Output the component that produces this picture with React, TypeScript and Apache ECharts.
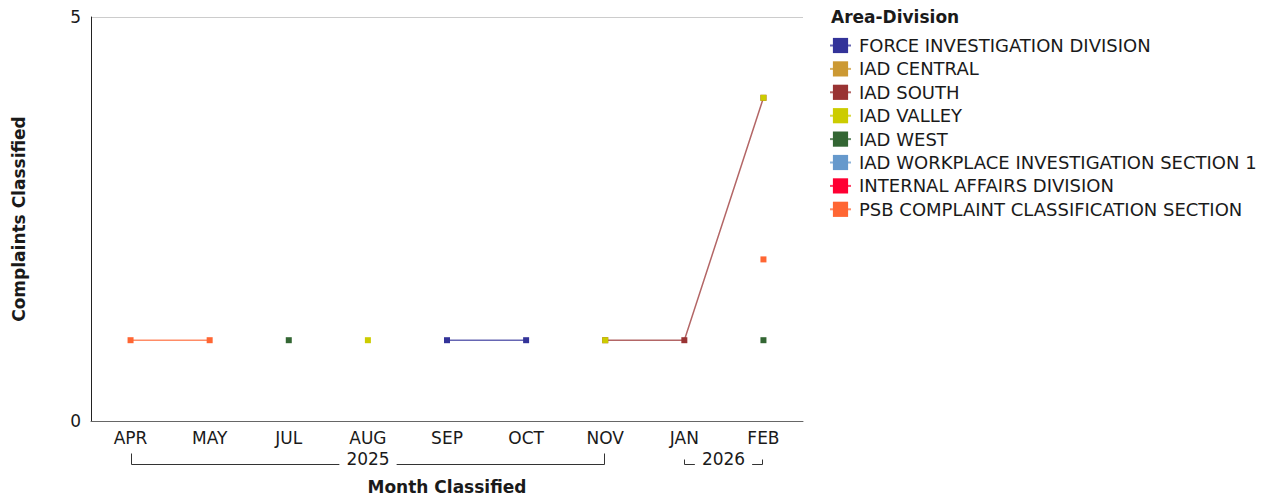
import React, { useEffect, useRef } from "react";
import * as echarts from "echarts";

const categories = ["APR", "MAY", "JUL", "AUG", "SEP", "OCT", "NOV", "JAN", "FEB"];
const yearGroups = [
  { label: "2025", from: "APR", to: "NOV" },
  { label: "2026", from: "JAN", to: "FEB" },
];
const seriesNames = [
  "FORCE INVESTIGATION DIVISION",
  "IAD CENTRAL",
  "IAD SOUTH",
  "IAD VALLEY",
  "IAD WEST",
  "IAD WORKPLACE INVESTIGATION SECTION 1",
  "INTERNAL AFFAIRS DIVISION",
  "PSB COMPLAINT CLASSIFICATION SECTION",
];
const forceInvestigation = [null, null, null, null, 1, 1, null, null, null];
const iadCentral = [null, null, null, null, null, null, null, null, null];
const iadSouth = [null, null, null, null, null, null, 1, 1, 4];
const iadValley = [null, null, null, 1, null, null, 1, null, 4];
const iadWest = [null, null, 1, null, null, null, null, null, 1];
const iadWorkplace = [null, null, null, null, null, null, null, null, null];
const internalAffairs = [null, null, null, null, null, null, null, null, null];
const psbClassification = [1, 1, null, null, null, null, null, null, 2];
const seriesValues = [
  forceInvestigation,
  iadCentral,
  iadSouth,
  iadValley,
  iadWest,
  iadWorkplace,
  internalAffairs,
  psbClassification,
];
const colors = ["#333399", "#CC9933", "#993333", "#CCCC00", "#336633", "#6699CC", "#FF0033", "#FF6633"];
const yTicks = [0, 5];

const FONT = "DejaVu Sans";
const LABEL_SIZE = 17;
const bracketTick = [11, 5];

export default function App() {
  const ref = useRef<HTMLDivElement>(null);
  useEffect(() => {
    if (!ref.current) return;
    const chart = echarts.init(ref.current, null, { renderer: "svg" });
    const option: any = {
      animation: false,
      textStyle: { fontFamily: FONT },
      title: {
        text: "Area-Division",
        left: 826,
        top: 3,
        textStyle: { fontFamily: FONT, fontSize: 17, fontWeight: "bold", color: "#1a1a1a" },
      },
      legend: {
        orient: "vertical",
        left: 824,
        top: 31.5,
        itemWidth: 21,
        itemHeight: 19,
        itemGap: 5.4,
        data: seriesNames,
        textStyle: { fontFamily: FONT, fontSize: 18, color: "#1a1a1a", padding: [0, 0, 0, 3] },
      },
      grid: {
        left: 91,
        right: 462,
        top: 17,
        bottom: 75,
        containLabel: false,
        outerBoundsMode: "none",
      },
      xAxis: {
        type: "category",
        data: categories,
        boundaryGap: true,
        name: "Month Classified",
        nameLocation: "middle",
        nameGap: 57,
        nameTextStyle: { fontFamily: FONT, fontSize: 17, fontWeight: "bold", color: "#1a1a1a" },
        axisLine: { lineStyle: { color: "#666", width: 1 } },
        axisTick: { show: false },
        axisLabel: { fontFamily: FONT, fontSize: LABEL_SIZE, color: "#1a1a1a", margin: 8, interval: 0 },
        splitLine: { show: false },
      },
      yAxis: {
        type: "value",
        min: yTicks[0],
        max: yTicks[yTicks.length - 1],
        interval: yTicks[1] - yTicks[0],
        name: "Complaints Classified",
        nameLocation: "middle",
        nameGap: 64,
        nameTextStyle: { fontFamily: FONT, fontSize: 17, fontWeight: "bold", color: "#1a1a1a" },
        axisLine: { show: true, lineStyle: { color: "#222", width: 1 } },
        axisTick: { show: false },
        axisLabel: { fontFamily: FONT, fontSize: LABEL_SIZE, color: "#1a1a1a", margin: 10 },
        splitLine: { show: true, lineStyle: { color: "#cccccc", width: 1 } },
      },
      series: seriesNames.map((name, i) => ({
        name,
        type: "line",
        data: seriesValues[i],
        connectNulls: false,
        symbol: "rect",
        symbolSize: 6,
        showAllSymbol: true,
        itemStyle: { color: colors[i] },
        lineStyle: { color: colors[i], width: 1.5, opacity: 0.75 },
        emphasis: { disabled: true },
      })),
    };
    chart.setOption(option);

    const ctx = document.createElement("canvas").getContext("2d");
    const measure = (t: string) => {
      if (!ctx) return t.length * 10.5;
      ctx.font = `${LABEL_SIZE}px "${FONT}"`;
      return ctx.measureText(t).width;
    };
    const axisY = chart.convertToPixel({ yAxisIndex: 0 }, 0) as number;
    const lineY = Math.round(axisY + 42.5) + 0.5;
    const textY = axisY + 37.5;
    const graphics: any[] = [];
    yearGroups.forEach((g, i) => {
      const x1 = Math.round(chart.convertToPixel({ xAxisIndex: 0 }, g.from) as number) + 0.5;
      const x2 = Math.round(chart.convertToPixel({ xAxisIndex: 0 }, g.to) as number) - 0.5;
      const cx = (x1 + x2) / 2;
      const half = measure(g.label) / 2 + 7;
      const top = lineY - bracketTick[i];
      const stroke = { stroke: "#333", lineWidth: 1, fill: null };
      graphics.push({
        type: "polyline",
        silent: true,
        shape: { points: [[x1, top], [x1, lineY], [cx - half, lineY]] },
        style: stroke,
      });
      graphics.push({
        type: "polyline",
        silent: true,
        shape: { points: [[cx + half, lineY], [x2, lineY], [x2, top]] },
        style: stroke,
      });
      graphics.push({
        type: "text",
        silent: true,
        x: cx,
        y: textY,
        style: {
          text: g.label,
          fontFamily: FONT,
          fontSize: LABEL_SIZE,
          fill: "#1a1a1a",
          align: "center",
          verticalAlign: "middle",
        },
      });
    });
    chart.setOption({ graphic: graphics });

    return () => chart.dispose();
  }, []);
  return (
    <div
      ref={ref}
      style={{ position: "absolute", left: 0, top: 0, width: 1265, height: 496 }}
    />
  );
}
